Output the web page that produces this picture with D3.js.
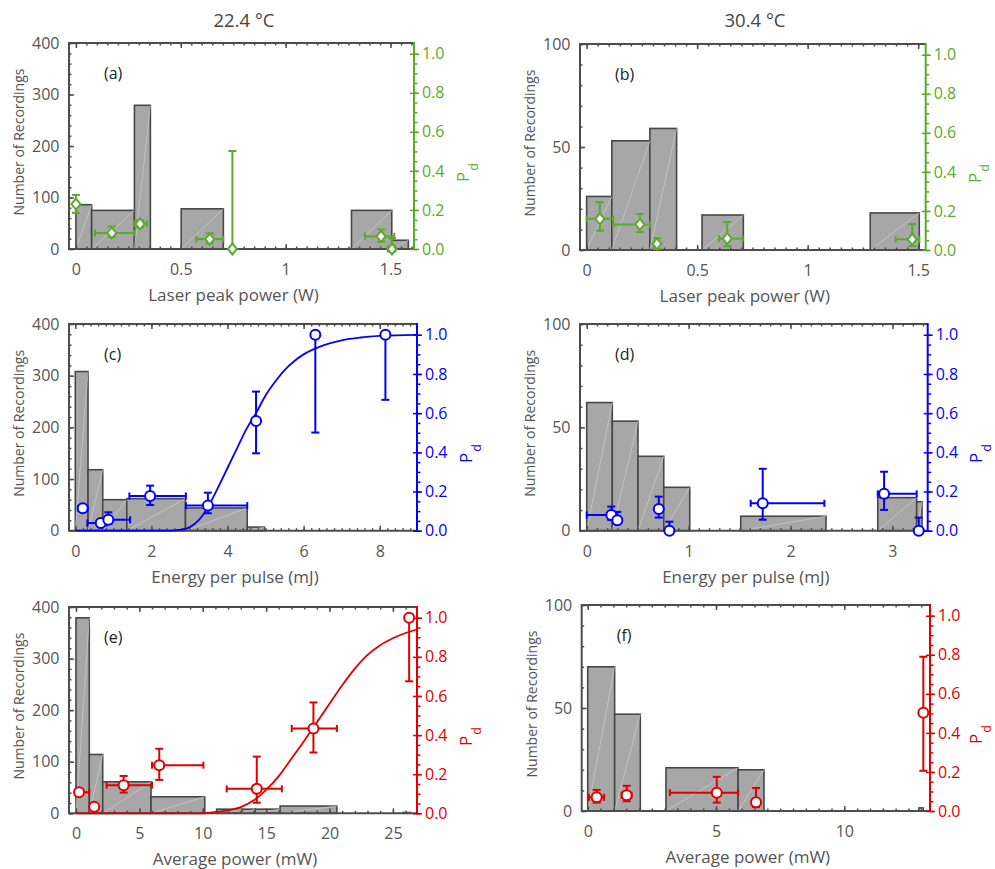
<!DOCTYPE html>
<html>
<head>
<meta charset="utf-8">
<script src="https://cdn.jsdelivr.net/npm/d3@7"></script>
<style>
body { margin: 0; background: #fff; }
svg { display: block; font-family: "Open Sans", sans-serif; }
</style>
</head>
<body>
<svg id="vis" width="995" height="869"></svg>
<script>
// column headers and axis titles
const columnTitles = ["22.4 °C", "30.4 °C"];
const xTitles = ["Laser peak power (W)", "Energy per pulse (mJ)", "Average power (mW)"];
const yTitle = "Number of Recordings";
const panelLetters = ["(a)", "(b)", "(c)", "(d)", "(e)", "(f)"];

// tick labels
const xTicksPeak = [0, 0.5, 1, 1.5];
const xTicksEnergyA = [0, 2, 4, 6, 8];
const xTicksEnergyB = [0, 1, 2, 3];
const xTicksAvgA = [0, 5, 10, 15, 20, 25];
const xTicksAvgB = [0, 5, 10];
const countTicksA = [0, 100, 200, 300, 400];
const countTicksB = [0, 50, 100];
const pdTicks = [0, 0.2, 0.4, 0.6, 0.8, 1.0];

// histogram bins: [from, to, number of recordings]
const binsA = [[0, 0.075, 86], [0.075, 0.279, 75], [0.279, 0.355, 279], [0.502, 0.703, 78], [1.314, 1.506, 75], [1.506, 1.585, 17]];
const binsB = [[0, 0.114, 26], [0.114, 0.286, 53], [0.286, 0.407, 59], [0.522, 0.709, 17], [1.283, 1.505, 18]];
const binsC = [[0, 0.334, 308], [0.334, 0.721, 118], [0.721, 1.353, 60], [1.353, 2.895, 62], [2.895, 4.518, 44], [4.518, 4.974, 7]];
const binsD = [[0, 0.251, 62], [0.251, 0.503, 53], [0.503, 0.756, 36], [0.756, 1.011, 21], [1.511, 2.348, 7], [2.856, 3.238, 16], [3.238, 3.29, 14]];
const binsE = [[0, 1.05, 379], [1.05, 2.11, 114], [2.11, 5.92, 61], [5.92, 10.16, 32], [11.1, 13.08, 8], [13.08, 14.13, 8], [14.13, 16.1, 8], [16.1, 20.58, 14], [25.8, 26.4, 1.5]];
const binsF = [[0, 1.05, 70], [1.05, 2.05, 47], [3.05, 5.86, 21], [5.86, 6.87, 20], [12.91, 13.08, 1.5]];

// detection probability: [x, Pd, Pd low, Pd high, x low, x high]
const ptsA = [
  [0.0, 0.23, 0.185, 0.277, null, null],
  [0.171, 0.082, 0.061, 0.116, 0.091, 0.279],
  [0.306, 0.129, 0.111, 0.148, 0.279, 0.338],
  [0.638, 0.051, 0.029, 0.080, 0.574, 0.702],
  [0.746, 0.0, 0.0, 0.502, null, null],
  [1.455, 0.065, 0.037, 0.100, 1.378, 1.518],
  [1.507, 0.0, 0.0, 0.055, 1.487, 1.523]
];
const ptsB = [
  [0.060, 0.160, 0.099, 0.245, 0, 0.12],
  [0.241, 0.131, 0.092, 0.185, 0.12, 0.288],
  [0.318, 0.032, 0.005, 0.061, null, null],
  [0.636, 0.058, 0.020, 0.143, 0.599, 0.706],
  [1.473, 0.055, 0.020, 0.133, 1.398, 1.505]
];
const ptsC = [
  [0.195, 0.114, null, null, 0.08, 0.32],
  [0.668, 0.039, null, null, 0.316, 0.826],
  [0.868, 0.056, 0.035, 0.094, 0.826, 1.44],
  [1.966, 0.177, 0.131, 0.23, 1.421, 2.905],
  [3.484, 0.128, 0.089, 0.194, 2.905, 4.518],
  [4.75, 0.56, 0.395, 0.71, null, null],
  [6.308, 1.0, 0.501, 1.0, null, null],
  [8.15, 1.0, 0.668, 1.0, null, null]
];
const ptsD = [
  [0.241, 0.08, 0.055, 0.123, 0, 0.241],
  [0.30, 0.053, 0.035, 0.096, null, null],
  [0.707, 0.111, 0.067, 0.174, null, null],
  [0.811, 0.0, 0.0, 0.046, null, null],
  [1.727, 0.14, 0.056, 0.316, 1.609, 2.332],
  [2.918, 0.188, 0.106, 0.301, 2.856, 3.238],
  [3.258, 0.0, 0.0, 0.067, null, null]
];
const ptsE = [
  [0.24, 0.108, null, null, 0, 1.05],
  [1.44, 0.034, null, null, null, null],
  [3.76, 0.144, 0.106, 0.191, 2.42, 6.0],
  [6.57, 0.246, 0.171, 0.33, 6.0, 10.05],
  [14.26, 0.125, 0.054, 0.29, 11.89, 16.24],
  [18.73, 0.434, 0.311, 0.567, 17.02, 20.58],
  [26.28, 1.0, 0.675, 1.0, null, null]
];
const ptsF = [
  [0.35, 0.070, 0.043, 0.108, 0.05, 0.64],
  [1.52, 0.081, 0.05, 0.129, 1.32, 1.71],
  [5.03, 0.094, 0.043, 0.175, 3.2, 5.86],
  [6.56, 0.045, 0.02, 0.118, null, null],
  [13.08, 0.503, 0.206, 0.79, null, null]
];

// fitted curves: [x, Pd]
const fitC = [[0, 0], [2.5, 0], [2.75, 0.004], [3.0, 0.017], [3.25, 0.055], [3.5, 0.125], [3.75, 0.22], [4.0, 0.32], [4.25, 0.42], [4.5, 0.52],
  [4.75, 0.6], [5.0, 0.69], [5.25, 0.76], [5.5, 0.82], [5.75, 0.865], [6.0, 0.9], [6.5, 0.945], [7.0, 0.972], [7.5, 0.986], [8.0, 0.994], [8.98, 1.0]];
const fitE = [[0, 0], [9.8, 0], [11, 0.006], [12, 0.015], [13, 0.032], [14, 0.065], [15, 0.12], [16, 0.19], [17, 0.28], [18, 0.37],
  [19, 0.465], [20, 0.56], [21, 0.655], [22, 0.74], [23, 0.81], [24, 0.86], [25, 0.895], [26, 0.922], [26.9, 0.94]];

const frameCol = "#4d4d4d", textCol = "#555";
const green = "#5aab2c", blue = "#0000ff", red = "#e00000";
const pdMax = 1.055;

const panels = [
  {bins: binsA, pts: ptsA, fit: null, color: green, marker: "diamond", box: [69, 414, 43, 249], xDom: [-0.033, 1.612], xTicks: xTicksPeak, xMinor: 0.05, yTicks: countTicksA, yMinor: 20, xTitle: xTitles[0]},
  {bins: binsB, pts: ptsB, fit: null, color: green, marker: "diamond", box: [580, 925.7, 44, 250], xDom: [-0.03, 1.534], xTicks: xTicksPeak, xMinor: 0.05, yTicks: countTicksB, yMinor: 10, xTitle: xTitles[0]},
  {bins: binsC, pts: ptsC, fit: fitC, color: blue, marker: "circle", box: [69, 417, 324, 530.7], xDom: [-0.166, 8.98], xTicks: xTicksEnergyA, xMinor: 0.2, yTicks: countTicksA, yMinor: 20, xTitle: xTitles[1]},
  {bins: binsD, pts: ptsD, fit: null, color: blue, marker: "circle", box: [580, 927.7, 324, 530.7], xDom: [-0.066, 3.346], xTicks: xTicksEnergyB, xMinor: 0.1, yTicks: countTicksB, yMinor: 10, xTitle: xTitles[1]},
  {bins: binsE, pts: ptsE, fit: fitE, color: red, marker: "circle", box: [69, 417, 607, 813.3], xDom: [-0.55, 26.9], xTicks: xTicksAvgA, xMinor: 1, yTicks: countTicksA, yMinor: 20, xTitle: xTitles[2]},
  {bins: binsF, pts: ptsF, fit: null, color: red, marker: "circle", box: [581.7, 930, 605, 811], xDom: [-0.234, 13.34], xTicks: xTicksAvgB, xMinor: 0.5, yTicks: countTicksB, yMinor: 10, xTitle: xTitles[2]}
];

const svg = d3.select("#vis");

const minorTicks = (dom, step) => d3.range(Math.ceil(dom[0] / step - 1e-9), Math.floor(dom[1] / step + 1e-9) + 1).map(i => +(i * step).toFixed(6));

const styleAxis = (g, col, size) => {
  g.select(".domain").remove();
  g.selectAll(".tick line").attr("stroke", col).attr("stroke-width", 1.5);
  g.selectAll(".tick text").attr("fill", col).attr("font-size", size).attr("font-family", "Open Sans, sans-serif");
};

columnTitles.forEach((t, i) => {
  svg.append("text").attr("x", i === 0 ? 244 : 755).attr("y", 27)
    .attr("text-anchor", "middle").attr("font-size", 18.5).attr("fill", "#444").text(t);
});

panels.forEach((p, pi) => {
  const [L, R, T, B] = p.box;
  const x = d3.scaleLinear().domain(p.xDom).range([L, R]);
  const y = d3.scaleLinear().domain([0, p.yTicks[p.yTicks.length - 1]]).range([B, T]);
  const yp = d3.scaleLinear().domain([0, pdMax]).range([B, T]);
  const g = svg.append("g");

  // histogram bars
  g.selectAll("rect.bar").data(p.bins).join("rect").attr("class", "bar")
    .attr("x", d => x(d[0])).attr("y", d => y(d[2]))
    .attr("width", d => x(d[1]) - x(d[0])).attr("height", d => y(0) - y(d[2]))
    .attr("fill", "#a7a7a7").attr("stroke", "#474747").attr("stroke-width", 1.6);
  g.selectAll("line.diag").data(p.bins).join("line").attr("class", "diag")
    .attr("x1", d => x(d[0])).attr("y1", y(0)).attr("x2", d => x(d[1])).attr("y2", d => y(d[2]))
    .attr("stroke", "#cfcfcf").attr("stroke-width", 0.7);

  // axes, ticks pointing into the box
  const xMin = minorTicks(p.xDom, p.xMinor);
  const yMin = minorTicks(y.domain(), p.yMinor);
  const pMin = minorTicks([0, 1.0], 0.05);

  g.append("g").attr("transform", `translate(0,${B})`)
    .call(d3.axisBottom(x).tickValues(p.xTicks).tickSize(-5).tickPadding(14.5).tickFormat(d3.format("~g")))
    .call(a => styleAxis(a, textCol, 16)).selectAll(".tick line").attr("stroke", frameCol);
  g.append("g").attr("transform", `translate(0,${B})`)
    .call(d3.axisBottom(x).tickValues(xMin).tickSize(-2.5).tickFormat(""))
    .call(a => styleAxis(a, frameCol, 0));
  g.append("g").attr("transform", `translate(0,${T})`)
    .call(d3.axisTop(x).tickValues(p.xTicks).tickSize(-5).tickFormat(""))
    .call(a => styleAxis(a, frameCol, 0));
  g.append("g").attr("transform", `translate(0,${T})`)
    .call(d3.axisTop(x).tickValues(xMin).tickSize(-2.5).tickFormat(""))
    .call(a => styleAxis(a, frameCol, 0));

  g.append("g").attr("transform", `translate(${L},0)`)
    .call(d3.axisLeft(y).tickValues(p.yTicks).tickSize(-5).tickPadding(9.5))
    .call(a => styleAxis(a, textCol, 16)).selectAll(".tick line").attr("stroke", frameCol);
  g.append("g").attr("transform", `translate(${L},0)`)
    .call(d3.axisLeft(y).tickValues(yMin).tickSize(-2.5).tickFormat(""))
    .call(a => styleAxis(a, frameCol, 0));

  // frame
  g.append("path").attr("d", `M${R},${T}H${L}V${B}H${R}`)
    .attr("fill", "none").attr("stroke", frameCol).attr("stroke-width", 2);

  // right Pd axis
  g.append("g").attr("transform", `translate(${R},0)`)
    .call(d3.axisRight(yp).tickValues(pdTicks).tickSize(5).tickPadding(3).tickFormat(d3.format(".1f")))
    .call(a => styleAxis(a, p.color, 16));
  g.append("g").attr("transform", `translate(${R},0)`)
    .call(d3.axisRight(yp).tickValues(pdTicks).tickSize(-4).tickFormat(""))
    .call(a => styleAxis(a, p.color, 0));
  g.append("g").attr("transform", `translate(${R},0)`)
    .call(d3.axisRight(yp).tickValues(pMin).tickSize(3.5).tickFormat(""))
    .call(a => styleAxis(a, p.color, 0));
  g.append("line").attr("x1", R).attr("x2", R).attr("y1", T - 1).attr("y2", B + 1)
    .attr("stroke", p.color).attr("stroke-width", 2);

  // titles
  g.append("text").attr("x", (L + R) / 2 - 8).attr("y", B + 52)
    .attr("text-anchor", "middle").attr("font-size", 17).attr("fill", textCol).text(p.xTitle);
  g.append("text").attr("transform", `translate(${L - 45},${(T + B) / 2 - 4}) rotate(-90)`)
    .attr("text-anchor", "middle").attr("font-size", 14).attr("fill", textCol).text(yTitle);
  const pd = g.append("text").attr("transform", `translate(${Math.min(R + 55, 982)},${T + 139}) rotate(-90)`)
    .attr("font-size", 17).attr("fill", p.color);
  pd.append("tspan").text("P");
  pd.append("tspan").attr("dy", 8.5).attr("dx", 1).attr("font-size", 12.5).text("d");
  g.append("text").attr("x", L + 35).attr("y", T + 35.5)
    .attr("font-size", 16).attr("fill", "#222").text(panelLetters[pi]);

  // fitted curve
  if (p.fit) {
    g.append("path").datum(p.fit)
      .attr("d", d3.line().x(d => x(d[0])).y(d => yp(d[1])).curve(d3.curveMonotoneX))
      .attr("fill", "none").attr("stroke", p.color).attr("stroke-width", 1.8);
  }

  // error bars
  const eb = g.append("g").attr("stroke", p.color).attr("stroke-width", 2).attr("fill", "none");
  p.pts.forEach(d => {
    const cx = x(d[0]), cy = yp(d[1]);
    if (d[2] !== null) {
      eb.append("line").attr("x1", cx).attr("x2", cx).attr("y1", yp(d[2])).attr("y2", yp(d[3]));
      [d[2], d[3]].forEach(v => eb.append("line").attr("x1", cx - 4).attr("x2", cx + 4).attr("y1", yp(v)).attr("y2", yp(v)));
    }
    if (d[4] !== null) {
      eb.append("line").attr("x1", x(d[4])).attr("x2", x(d[5])).attr("y1", cy).attr("y2", cy);
      [d[4], d[5]].forEach(v => eb.append("line").attr("x1", x(v)).attr("x2", x(v)).attr("y1", cy - 3.5).attr("y2", cy + 3.5));
    }
  });

  // markers
  if (p.marker === "circle") {
    g.selectAll("circle.pt").data(p.pts).join("circle").attr("class", "pt")
      .attr("cx", d => x(d[0])).attr("cy", d => yp(d[1])).attr("r", 5)
      .attr("fill", "#fff").attr("stroke", p.color).attr("stroke-width", 2);
  } else {
    g.selectAll("path.pt").data(p.pts).join("path").attr("class", "pt")
      .attr("transform", d => `translate(${x(d[0])},${yp(d[1])})`)
      .attr("d", "M0,-5.5L4.5,0L0,5.5L-4.5,0Z")
      .attr("fill", "#fff").attr("stroke", p.color).attr("stroke-width", 2);
  }
});
</script>
</body>
</html>
